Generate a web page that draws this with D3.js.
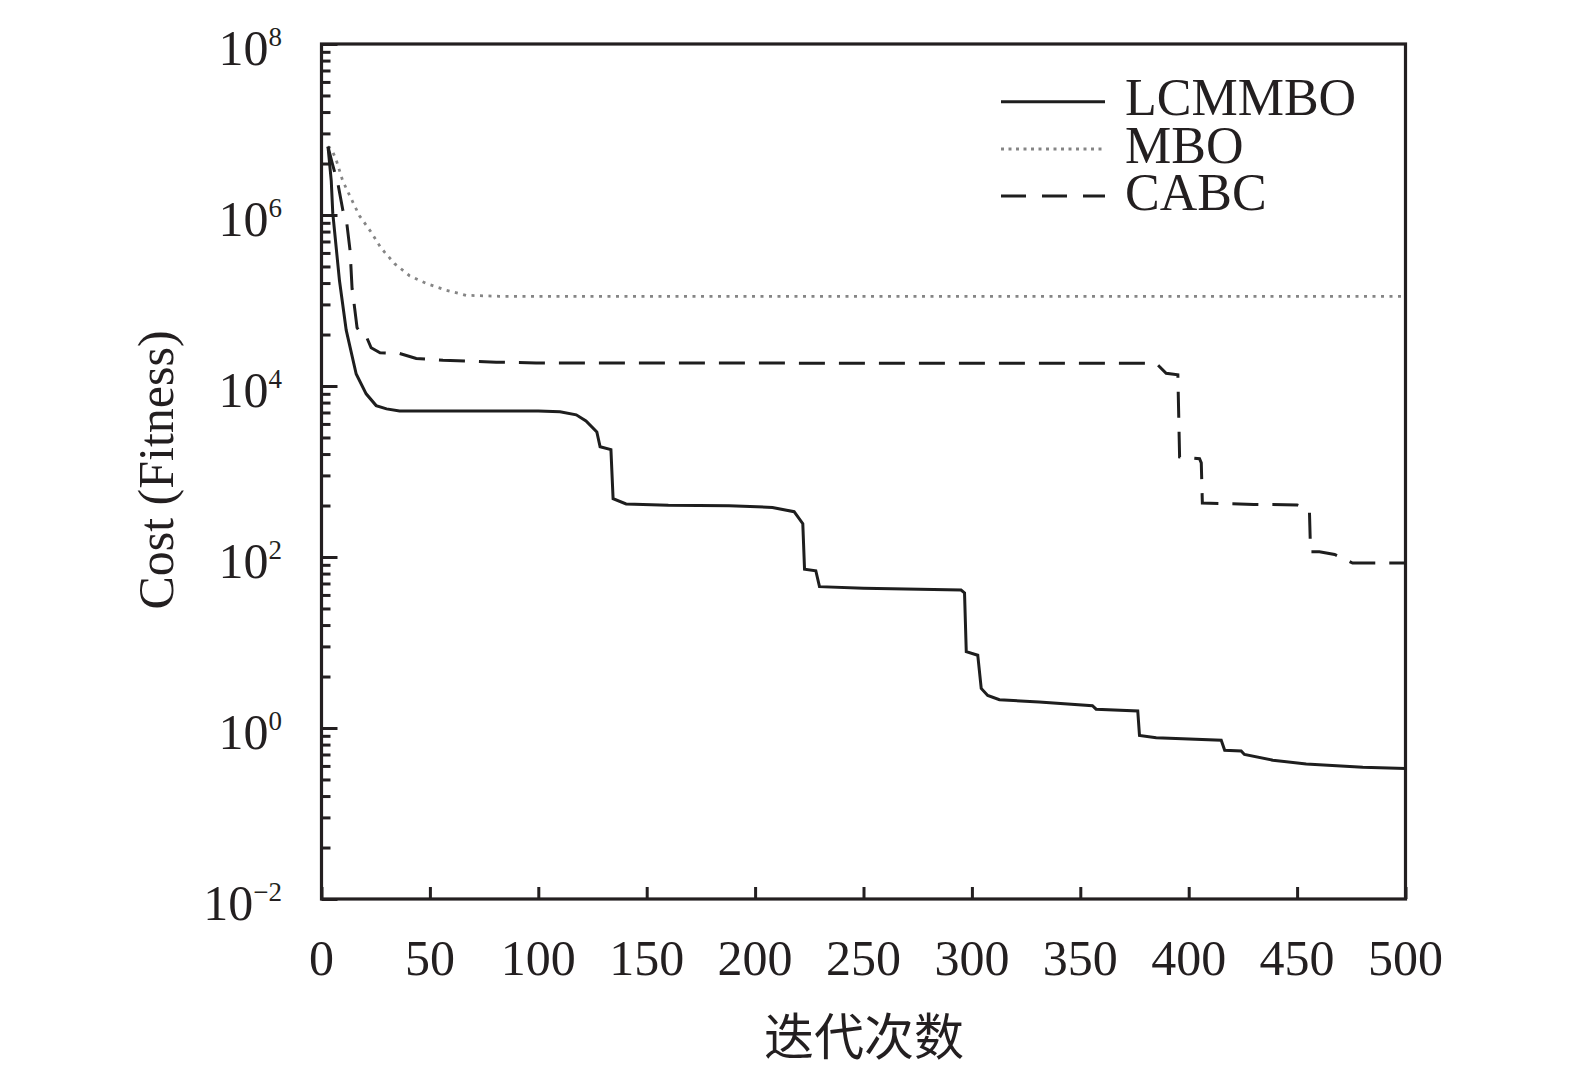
<!DOCTYPE html>
<html><head><meta charset="utf-8">
<script src="https://cdn.jsdelivr.net/npm/d3@7/dist/d3.min.js"></script>
<style>body{margin:0;background:#fff} svg{display:block}</style>
</head><body><svg id="c" width="1575" height="1070"></svg>
<script>
// ---- data ----
const xTicks = [0, 50, 100, 150, 200, 250, 300, 350, 400, 450, 500];
const yMajor = [1e-2, 1e0, 1e2, 1e4, 1e6, 1e8];
const yExpLabels = ["\u22122", "0", "2", "4", "6", "8"];
const minorMultipliers = [4, 9, 16, 25, 36, 49, 64, 81];
const seriesNames = ["LCMMBO", "MBO", "CABC"];

const lcmmboIter = [3, 4.5, 5.2, 8.3, 11.4, 16, 20.6, 25.2, 30, 36, 100, 110, 117.5, 122, 127, 128.5, 133.5, 134.5, 140.5, 160, 188, 208, 218, 222, 222.8, 228, 229.7, 250, 295, 296.6, 297.4, 302.7, 304.3, 307.3, 312.7, 331, 355.6, 357.3, 376.5, 377.3, 385, 415, 416.6, 424.2, 425.7, 438.8, 454.2, 480.3, 500];
const lcmmboCost = [6.3e6, 2.5e6, 1.05e6, 1.7e5, 4.5e4, 1.38e4, 8.1e3, 5.9e3, 5.4e3, 5.1e3, 5.1e3, 5.0e3, 4.6e3, 3.9e3, 2.9e3, 1.95e3, 1.8e3, 480, 417, 403, 398, 380, 339, 245, 72, 69, 45, 43, 41, 38, 7.8, 7.1, 2.9, 2.4, 2.14, 2.02, 1.82, 1.66, 1.58, 0.82, 0.77, 0.72, 0.55, 0.54, 0.49, 0.42, 0.38, 0.347, 0.336];

const mboIter = [3, 4.5, 6.8, 9.8, 13.7, 17.5, 22.9, 27.5, 33.7, 40.6, 48.3, 57.5, 66.7, 82, 500];
const mboCost = [6.3e6, 6.0e6, 4.4e6, 2.5e6, 1.55e6, 9.8e5, 6.3e5, 4.1e5, 2.7e5, 1.95e5, 1.58e5, 1.32e5, 1.15e5, 1.12e5, 1.12e5];

const cabcIter = [3, 5, 7.6, 9.9, 11.7, 13.2, 14.1, 15, 16.4, 18, 20.1, 22.9, 27, 36, 43.7, 56, 80.6, 99, 385, 389.6, 395, 395.8, 405, 405.8, 406.3, 430, 450, 453, 455.7, 456.2, 460.3, 467.3, 475.6, 500];
const cabcCost = [6.3e6, 4.0e6, 2.3e6, 1.12e6, 7.9e5, 3.8e5, 1.38e5, 9.3e4, 4.8e4, 4.2e4, 4.1e4, 2.8e4, 2.45e4, 2.4e4, 2.1e4, 2.0e4, 1.9e4, 1.86e4, 1.84e4, 1.41e4, 1.35e4, 1.48e3, 1.41e3, 1.26e3, 427, 412, 407, 380, 339, 115, 115, 107, 85, 85];

// ---- layout ----
const svg = d3.select("#c");
const L = 321.5, R = 1405.5, T = 44, B = 899;
const x = d3.scaleLinear().domain([0, 500]).range([L, R]);
const y = d3.scaleLog().domain([1e-2, 1e8]).range([B, T]);
const ink = "#231f20";
const serif = "'Liberation Serif','Times New Roman',serif";

svg.append("defs").append("clipPath").attr("id", "clip")
  .append("rect").attr("x", L).attr("y", T).attr("width", R - L).attr("height", B - T);

// minor tick values
const yMinor = [];
yMajor.slice(0, -1).forEach(v => minorMultipliers.forEach(m => yMinor.push(v * m)));

// y axis (ticks pointing inward)
svg.append("g").attr("transform", `translate(${L},0)`)
  .call(d3.axisLeft(y).tickValues(yMinor).tickSize(-9).tickFormat(""))
  .call(g => g.select(".domain").remove())
  .call(g => g.selectAll("line").attr("stroke", ink).attr("stroke-width", 3));
svg.append("g").attr("transform", `translate(${L},0)`)
  .call(d3.axisLeft(y).tickValues(yMajor).tickSize(-16).tickFormat(""))
  .call(g => g.select(".domain").remove())
  .call(g => g.selectAll("line").attr("stroke", ink).attr("stroke-width", 3));

// x axis
svg.append("g").attr("transform", `translate(0,${B})`)
  .call(d3.axisBottom(x).tickValues(xTicks).tickSize(-12).tickFormat(""))
  .call(g => g.select(".domain").remove())
  .call(g => g.selectAll("line").attr("stroke", ink).attr("stroke-width", 3));

// frame
svg.append("rect").attr("x", L).attr("y", T).attr("width", R - L).attr("height", B - T)
  .attr("fill", "none").attr("stroke", ink).attr("stroke-width", 3.2);

// y labels
yMajor.forEach((v, i) => {
  const t = svg.append("text").attr("x", 282).attr("y", y(v) + 21)
    .attr("text-anchor", "end").attr("font-family", serif).attr("font-size", 50).attr("fill", ink);
  t.append("tspan").text("10");
  t.append("tspan").attr("dy", -19).attr("font-size", 27).text(yExpLabels[i]);
});

// x labels
xTicks.forEach(v => {
  svg.append("text").attr("x", x(v)).attr("y", 975).attr("text-anchor", "middle")
    .attr("font-family", serif).attr("font-size", 50).attr("fill", ink).text(v);
});

// axis titles
svg.append("text").attr("x", 864).attr("y", 1055).attr("text-anchor", "middle")
  .attr("font-family", "'Noto Sans CJK SC',sans-serif").attr("font-size", 50).attr("fill", ink).text("迭代次数");
svg.append("text").attr("transform", "translate(173,470) rotate(-90)").attr("text-anchor", "middle")
  .attr("font-family", serif).attr("font-size", 50).attr("fill", ink).text("Cost (Fitness)");

// series
const styles = [
  { color: "#1e1e1e", width: 3, dash: null },
  { color: "#858585", width: 2.8, dash: "3,5.5" },
  { color: "#1e1e1e", width: 3, dash: "26,14" }
];
const seriesData = [
  d3.zip(lcmmboIter, lcmmboCost),
  d3.zip(mboIter, mboCost),
  d3.zip(cabcIter, cabcCost)
];
const line = d3.line().x(d => x(d[0])).y(d => y(d[1]));
const plot = svg.append("g").attr("clip-path", "url(#clip)");
[1, 2, 0].forEach(i => {
  plot.append("path").datum(seriesData[i]).attr("d", line)
    .attr("fill", "none").attr("stroke", styles[i].color).attr("stroke-width", styles[i].width)
    .attr("stroke-dasharray", styles[i].dash).attr("stroke-linejoin", "miter");
});

// legend
const legY = [101.7, 149, 196];
const legDash = [null, "3,4.5", "25,16"];
seriesNames.forEach((n, i) => {
  svg.append("line").attr("x1", 1001).attr("x2", 1105).attr("y1", legY[i]).attr("y2", legY[i])
    .attr("stroke", styles[i].color).attr("stroke-width", styles[i].width).attr("stroke-dasharray", legDash[i]);
  svg.append("text").attr("x", 1125).attr("y", legY[i] + 13.5).attr("font-family", serif)
    .attr("font-size", 52).attr("fill", ink).text(n);
});
</script></body></html>
